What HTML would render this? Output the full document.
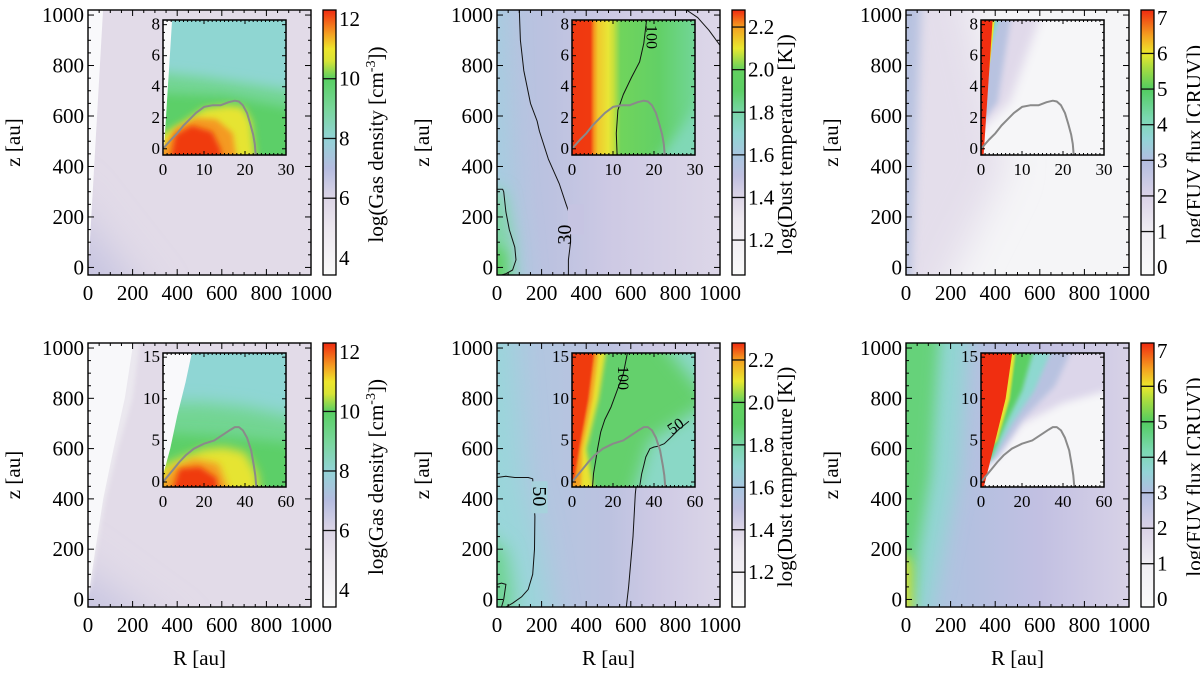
<!DOCTYPE html>
<html><head><meta charset="utf-8">
<style>
html,body{margin:0;padding:0;background:#fff;}
svg{display:block;}
svg text{font-family:"Liberation Serif","Times New Roman","Nimbus Roman","DejaVu Serif",serif !important;}
</style></head>
<body>
<svg id="fig" width="1200" height="676" viewBox="0 0 1200 676" xmlns="http://www.w3.org/2000/svg">
<defs id="defs"></defs>
</svg>
<script>
// ---- data arrays ----
const mainXTicks = [0, 200, 400, 600, 800, 1000];
const mainYTicks = [0, 200, 400, 600, 800, 1000];
const inset1XTicks = [0, 10, 20, 30];
const inset1YTicks = [0, 2, 4, 6, 8];
const inset2XTicks = [0, 20, 40, 60];
const inset2YTicks = [0, 5, 10, 15];
const gasCbTicks = [4, 6, 8, 10, 12];
const gasCbLines = [6, 8, 10];
const dustCbTicks = [1.2, 1.4, 1.6, 1.8, 2.0, 2.2];
const dustCbLabels = ['1.2', '1.4', '1.6', '1.8', '2.0', '2.2'];
const fuvCbTicks = [0, 1, 2, 3, 4, 5, 6, 7];
const fuvCbLines = [1, 2, 3, 4, 5, 6];
// disk surface contour (gray) in insets: R and z values
const curve1R = [0, 1, 2, 3.5, 5, 6.5, 8, 10, 12, 14, 16, 17.5, 18.5, 19.5, 20.5, 21.3, 22, 22.4, 22.6];
const curve1Z = [0, 0.3, 0.6, 1.0, 1.5, 1.9, 2.3, 2.7, 2.8, 2.8, 3.0, 3.1, 3.05, 2.8, 2.3, 1.6, 0.9, 0.3, -0.4];
const curve2R = [0, 2, 5, 8, 11, 15, 20, 25, 30, 33, 35, 37, 39, 41, 43, 44.3, 45, 45.5];
const curve2Z = [0, 0.6, 1.5, 2.4, 3.2, 4.0, 4.6, 5.0, 5.8, 6.3, 6.6, 6.6, 6.2, 5.3, 3.8, 2.0, 0.8, -0.6];
// dust temperature contours (black)
const c30R = [100, 105, 120, 150, 180, 190, 230, 280, 310, 330, 330, 320, 320];
const c30Z = [1020, 900, 780, 650, 580, 540, 430, 330, 250, 200, 100, 30, -30];
const c30bR = [0, 25, 30, 40, 55, 80, 85, 70, 40, 20];
const c30bZ = [310, 310, 300, 220, 150, 80, 30, -10, -25, -30];
const c30cR = [850, 900, 950, 1000];
const c30cZ = [1020, 990, 940, 880];
const t100aR = [11, 10.8, 11.2, 12.5, 14.5, 16.5, 17.5, 18.2];
const t100aZ = [-0.4, 1, 2.5, 3.5, 4.6, 5.6, 6.8, 8.3];
const c50R = [0, 40, 80, 140, 160, 165, 170, 168, 160, 140, 110, 70, 40];
const c50Z = [485, 490, 485, 485, 480, 400, 330, 200, 100, 40, 10, -15, -30];
const c50bR = [580, 590, 600, 610, 615, 620, 630, 640, 650];
const c50bZ = [-30, 50, 150, 250, 330, 420, 500, 600, 700];
const c50cR = [0, 20, 40, 30, 20];
const c50cZ = [60, 65, 60, 0, -30];
const t100bR = [10, 10.5, 11.5, 12.5, 14, 16, 19, 22, 25, 27];
const t100bZ = [-0.6, 1, 2.5, 4, 6, 7.5, 9, 11, 13, 15.5];
const t50bR = [33, 34, 35, 36, 38, 40, 42, 45, 48, 52, 57];
const t50bZ = [-0.6, 1, 2, 3, 4, 4.2, 4.3, 4.6, 5.3, 6.3, 7.3];

// ---- layout ----
const SVGNS = 'http://www.w3.org/2000/svg';
const svg = document.getElementById('fig');
const defs = document.getElementById('defs');
const FONT = '"Liberation Serif", "Times New Roman", "Nimbus Roman", "DejaVu Serif", serif';
const PW = 223;
const colX = [88, 497, 906];
const rows = [[10, 275], [343, 607]];
const insetRows = [[20, 155], [353, 487]];
let uid = 0;
function mk(tag, attrs, parent) {
  const e = document.createElementNS(SVGNS, tag);
  for (const k in attrs) e.setAttribute(k, attrs[k]);
  (parent || svg).appendChild(e);
  return e;
}
const blurCache = {};
function blurId(s) {
  if (!s) return null;
  if (blurCache[s]) return blurCache[s];
  const id = 'bl' + (uid++);
  const f = mk('filter', {id: id, x: '-50%', y: '-50%', width: '200%', height: '200%'}, defs);
  mk('feGaussianBlur', {stdDeviation: s}, f);
  blurCache[s] = id;
  return id;
}
function makeAxes(x0, x1, y0, y1, xd, yd) {
  return {
    x0, x1, y0, y1,
    sx: v => x0 + (v - xd[0]) / (xd[1] - xd[0]) * (x1 - x0),
    sy: v => y1 - (v - yd[0]) / (yd[1] - yd[0]) * (y1 - y0),
    xd, yd
  };
}
function clipGroup(ax, name) {
  const id = 'cp' + (uid++);
  const cp = mk('clipPath', {id: id}, defs);
  mk('rect', {x: ax.x0, y: ax.y0, width: ax.x1 - ax.x0, height: ax.y1 - ax.y0}, cp);
  const g = mk('g', {'clip-path': 'url(#' + id + ')'});
  
  
  return g;
}
function poly(g, ax, pts, fill, blur) {
  const rx = ax.xd[1] - ax.xd[0], ry = ax.yd[1] - ax.yd[0];
  const p = pts.map(q => {
    let x = q[0], y = q[1];
    if (blur) {
      if (x <= ax.xd[0]) x = ax.xd[0] - 0.15 * rx;
      if (x >= ax.xd[1]) x = ax.xd[1] + 0.15 * rx;
      if (y <= ax.yd[0] + 0.02 * ry) y = ax.yd[0] - 0.15 * ry;
      if (y >= ax.yd[1]) y = ax.yd[1] + 0.15 * ry;
    }
    return ax.sx(x).toFixed(1) + ',' + ax.sy(y).toFixed(1);
  }).join(' ');
  const a = {points: p, fill: fill};
  const b = blurId(blur);
  if (b) a.filter = 'url(#' + b + ')';
  return mk('polygon', a, g);
}
function hgrad(stops) {
  const id = 'hg' + (uid++);
  const lg = mk('linearGradient', {id: id, x1: 0, y1: 0, x2: 1, y2: 0}, defs);
  stops.forEach(s => mk('stop', {offset: s[0], 'stop-color': s[1]}, lg));
  return 'url(#' + id + ')';
}
function base(g, ax, fill) {
  mk('rect', {x: ax.x0 - 2, y: ax.y0 - 2, width: ax.x1 - ax.x0 + 4, height: ax.y1 - ax.y0 + 4, fill: fill}, g);
}
function line(g, ax, R, Z, color, w, name) {
  const d = R.map((r, i) => (i ? 'L' : 'M') + ax.sx(r).toFixed(1) + ' ' + ax.sy(Z[i]).toFixed(1)).join(' ');
  const e = mk('path', {d: d, fill: 'none', stroke: color, 'stroke-width': w, 'stroke-linejoin': 'round'}, g);
  
  
  return e;
}
function frameTicks(ax, xMaj, xMinStep, yMinStep, tl, tlm, name) {
  const g = mk('g', {stroke: '#000', 'stroke-width': 1, fill: 'none'});
  
  
  for (let v = ax.xd[0]; v <= ax.xd[1] + 1e-9; v += xMinStep) {
    const isMaj = xMaj.some(m => Math.abs(m - v) < 1e-6);
    const L = isMaj ? tl : tlm, x = ax.sx(v);
    mk('line', {x1: x, y1: ax.y1, x2: x, y2: ax.y1 - L}, g);
    mk('line', {x1: x, y1: ax.y0, x2: x, y2: ax.y0 + L}, g);
  }
  return g;
}
function yTicks(g, ax, yMaj, step, tl, tlm) {
  const start = Math.ceil(ax.yd[0] / step) * step;
  for (let v = start; v <= ax.yd[1] + 1e-9; v += step) {
    const isMaj = yMaj.some(m => Math.abs(m - v) < 1e-6);
    const L = isMaj ? tl : tlm, y = ax.sy(v);
    mk('line', {x1: ax.x0, y1: y, x2: ax.x0 + L, y2: y}, g);
    mk('line', {x1: ax.x1, y1: y, x2: ax.x1 - L, y2: y}, g);
  }
}
function text(x, y, s, size, anchor, name, rot) {
  const a = {x: x, y: y, 'font-size': size, 'text-anchor': anchor || 'middle', fill: '#000'};
  if (rot) a.transform = 'rotate(' + rot + ' ' + x + ' ' + y + ')';
  const t = mk('text', a);
  t.style.fontFamily = FONT;
  t.textContent = s;
  
  
  return t;
}

// ---- colorbars ----
const cbConf = {
  gas: {dom: [3.43, 12.3], ticks: gasCbTicks, labels: gasCbTicks.map(String), lines: gasCbLines,
    stops: [[3.43, '#fafafa'], [5, '#ece7ef'], [6, '#dcd5e6'], [7, '#b5bce0'], [8, '#92d3d6'], [9, '#78d69a'], [10, '#58cf62'], [10.6, '#d8e436'], [11, '#eee52c'], [11.5, '#f4a022'], [12.3, '#f02a10']]},
  dust: {dom: [1.036, 2.28], ticks: dustCbTicks, labels: dustCbLabels, lines: dustCbTicks,
    stops: [[1.036, '#fafafa'], [1.3, '#ece8ef'], [1.4, '#dcd5e6'], [1.5, '#c0c0e0'], [1.6, '#a8c6e0'], [1.7, '#90d6d2'], [1.8, '#78d6a8'], [1.9, '#5ccf66'], [2.0, '#62d05e'], [2.1, '#e8e830'], [2.2, '#f4a020'], [2.28, '#f02a10']]},
  fuv: {dom: [-0.22, 7.22], ticks: fuvCbTicks, labels: fuvCbTicks.map(String), lines: fuvCbLines,
    stops: [[-0.22, '#fafafa'], [1, '#f0eef3'], [2, '#dad2e7'], [3, '#b2bde0'], [3.6, '#92d4d6'], [4.2, '#7ad8b0'], [5, '#52cc60'], [5.6, '#a8dc40'], [6, '#ece82c'], [6.5, '#f4a020'], [7.22, '#f02a10']]}
};
function colorbar(cx, y0, y1, kind, name) {
  const c = cbConf[kind];
  const id = 'cb' + (uid++);
  const lg = mk('linearGradient', {id: id, x1: 0, y1: 1, x2: 0, y2: 0}, defs);
  c.stops.forEach(s => mk('stop', {offset: ((s[0] - c.dom[0]) / (c.dom[1] - c.dom[0])).toFixed(4), 'stop-color': s[1]}, lg));
  const g = mk('g', {});
  
  
  const sy = v => y1 - (v - c.dom[0]) / (c.dom[1] - c.dom[0]) * (y1 - y0);
  mk('rect', {x: cx, y: y0, width: 13, height: y1 - y0, fill: 'url(#' + id + ')'}, g);
  c.lines.forEach(v => mk('line', {x1: cx, x2: cx + 13, y1: sy(v), y2: sy(v), stroke: '#111', 'stroke-width': 1.3}, g));
  mk('rect', {x: cx, y: y0, width: 13, height: y1 - y0, fill: 'none', stroke: '#000', 'stroke-width': 1.3}, g);
  c.ticks.forEach((v, i) => text(cx + 16, sy(v) + 7, c.labels[i], 21, 'start', 'colorbar-tick-label'));
  const tx = cx + 60, ty = (y0 + y1) / 2 + 2;
  const t = mk('text', {x: tx, y: ty, 'font-size': 21, 'text-anchor': 'middle', transform: 'rotate(-90 ' + tx + ' ' + ty + ')'});
  t.style.fontFamily = FONT;
  
  
  if (kind === 'gas') {
    t.appendChild(document.createTextNode('log(Gas density [cm'));
    const sp = mk('tspan', {dy: -8, 'font-size': 14}, t); sp.textContent = '-3';
    const sp2 = mk('tspan', {dy: 8}, t); sp2.textContent = '])';
  } else if (kind === 'dust') t.textContent = 'log(Dust temperature [K])';
  else t.textContent = 'log(FUV flux [CRUV])';
}

// ---- field painters ----
const painters = {
  gas1main(g, ax) {
    base(g, ax, '#e2dbe8');
    poly(g, ax, [[0, -30], [0, 320], [300, -30]], '#c4c2e0', 22);
    poly(g, ax, [[0, -30], [0, 30], [40, -30]], '#8fd5cf', 4);
    poly(g, ax, [[0, -30], [0, 1030], [68, 1030]], '#f9f9fb');
  },
  gas1inset(g, ax) {
    base(g, ax, '#8fd6d2');
    poly(g, ax, [[0, -1], [0, 5], [10, 4.6], [20, 4.2], [30, 3.6], [31, -1]], '#72d592', 6);
    poly(g, ax, [[0, -1], [0, 3.6], [15, 3.4], [31, 2.4], [31, -1]], '#5ccf68', 5);
    poly(g, ax, [[0, -1], [0, 0.3], [5, 1.7], [10, 2.6], [16, 2.8], [19.5, 2.7], [21.5, 1.8], [23, -1]], '#e6e432', 4);
    poly(g, ax, [[0, -1], [3, 1.3], [8, 2.0], [13, 1.9], [17, 1.0], [18.5, -1]], '#f49a20', 3);
    poly(g, ax, [[1, -1], [3, 0.9], [7, 1.5], [12, 1.1], [14, 0], [15, -1]], '#f03a10', 3);
    poly(g, ax, [[0, -1], [0, 9], [2.4, 9], [0.2, -0.2]], '#fafafa');
  },
  dust1main(g, ax) {
    base(g, ax, hgrad([[0, '#b2c4df'], [0.25, '#bcc2e0'], [0.5, '#cdc9e4'], [1, '#ddd7e8']]));
    poly(g, ax, [[0, -30], [0, 1030], [25, 1030], [60, 400], [130, -30]], '#a6cde0', 12);
    poly(g, ax, [[0, -30], [0, 320], [30, 300], [70, 100], [85, -30]], '#80d6a6', 8);
    poly(g, ax, [[0, -30], [0, 160], [40, 60], [45, -30]], '#60d068', 6);
    poly(g, ax, [[0, -30], [0, 40], [15, -30]], '#ecc828', 2);
  },
  dust1inset(g, ax) {
    base(g, ax, hgrad([[0, '#f03810'], [0.16, '#f03a10'], [0.19, '#f5961e'], [0.22, '#f0c82c'], [0.3, '#e8e636'], [0.34, '#c8e03c'], [0.4, '#70d45c'], [0.7, '#62d066'], [1, '#72d69a']]));
    poly(g, ax, [[18, -1], [31, -1], [31, 4]], '#80d8b6', 6);
  },
  fuv1main(g, ax) {
    base(g, ax, '#f5f5f7');
    poly(g, ax, [[0, -30], [0, 1030], [250, 1030], [450, 400], [120, -30]], '#e4deeb', 18);
    poly(g, ax, [[0, -30], [0, 1030], [75, 1030], [15, -30]], '#b8c2e0', 5);
    poly(g, ax, [[0, -30], [0, 700], [14, -30]], '#8fd6d0', 3);
    poly(g, ax, [[0, -30], [0, 300], [6, -30]], '#52cc60', 1);
  },
  fuv1inset(g, ax) {
    base(g, ax, '#f6f6f8');
    poly(g, ax, [[0, 0], [0, 9], [16, 9], [7, 3]], '#e0d9ea', 5);
    poly(g, ax, [[0, 0], [0, 9], [8, 9], [4, 3]], '#b8c2e0', 3);
    poly(g, ax, [[0, 0], [0, 9], [5.8, 9]], '#8fd6d0', 1.5);
    poly(g, ax, [[0, 0], [0, 9], [4.6, 9]], '#58cc60', 1);
    poly(g, ax, [[0, 0], [0, 9], [3.6, 9]], '#e8e430');
    poly(g, ax, [[0, -1], [0, 9], [3.0, 9], [0.5, -1]], '#f02e10');
  },
  gas2main(g, ax) {
    base(g, ax, '#e2dbe8');
    poly(g, ax, [[0, -30], [0, 180], [420, -30]], '#c4c2e0', 22);
    poly(g, ax, [[0, -30], [0, 30], [70, -30]], '#8fd5cf', 5);
    poly(g, ax, [[0, -30], [0, 1030], [255, 1030], [200, 800], [135, 600], [80, 400], [40, 200], [12, 50]], '#ebe8ef', 2);
    poly(g, ax, [[0, -30], [0, 1030], [205, 1030], [165, 800], [115, 600], [68, 400], [33, 200], [8, 50]], '#f8f8fa');
  },
  gas2inset(g, ax) {
    base(g, ax, '#8fd6d4');
    poly(g, ax, [[0, -1], [0, 9.5], [20, 9.5], [40, 9], [61, 7.5], [61, -1]], '#72d592', 8);
    poly(g, ax, [[0, -1], [0, 6], [30, 5.5], [61, 4.5], [61, -1]], '#5ccf68', 6);
    poly(g, ax, [[0, -1], [0, 1], [10, 3], [20, 4.0], [30, 4.2], [40, 3.6], [46, 1], [48, -1]], '#e6e432', 5);
    poly(g, ax, [[0, -1], [5, 1.8], [15, 2.8], [27, 2.2], [35, -1]], '#f49a20', 4);
    poly(g, ax, [[2, -1], [8, 1.6], [18, 1.8], [26, 0.5], [28, -1]], '#f03a10', 3);
    poly(g, ax, [[0, 0.8], [0, 16], [14.5, 16], [11, 12], [7, 8], [3.5, 4]], '#f9f9fb');
  },
  dust2main(g, ax) {
    base(g, ax, hgrad([[0, '#a8cce0'], [0.2, '#b2c6e0'], [0.5, '#bcc2e0'], [0.7, '#cdc9e4'], [1, '#dcd6e8']]));
    poly(g, ax, [[0, -30], [0, 1030], [40, 1030], [110, 480], [190, 200], [260, -30]], '#9ad6da', 14);
    poly(g, ax, [[0, -30], [0, 320], [40, 200], [70, 50], [70, -30]], '#6ed492', 9);
    poly(g, ax, [[0, -30], [0, 90], [28, -30]], '#e6d830', 3);
    poly(g, ax, [[0, -30], [0, 25], [10, -30]], '#f07020', 1);
  },
  dust2inset(g, ax) {
    base(g, ax, '#64d06c');
    poly(g, ax, [[28, -1], [38, 5], [61, 10], [61, -1]], '#8ad8c6', 8);
    poly(g, ax, [[40, 16], [61, 16], [61, 9]], '#8ad8c6', 8);
    poly(g, ax, [[0, -1], [0, 16], [18, 16], [13, 10], [7, 4], [12, -1]], '#e8e232', 2);
    poly(g, ax, [[0, -1], [0, 16], [14, 16], [10, 10], [5, 4], [4, -1]], '#f4a020', 1.5);
    poly(g, ax, [[0, 0], [0, 16], [12, 16], [8, 10], [3.5, 4], [1, 0]], '#f03a10', 1);
  },
  fuv2main(g, ax) {
    base(g, ax, hgrad([[0, '#a8c8e0'], [0.3, '#b4c0e0'], [0.6, '#c2c0e2'], [1, '#d8d2e7']]));
    poly(g, ax, [[0, -30], [0, 1030], [290, 1030], [230, 500], [160, 200], [70, -30]], '#90d6d2', 10);
    poly(g, ax, [[0, -30], [0, 1030], [160, 1030], [110, 500], [55, 200], [15, -30]], '#66d27a', 7);
    poly(g, ax, [[0, -30], [0, 260], [18, 150], [22, -30]], '#e6e032', 6);
    poly(g, ax, [[0, -30], [0, 90], [14, -30]], '#f06020', 3);
  },
  fuv2inset(g, ax) {
    base(g, ax, '#f6f6f8');
    poly(g, ax, [[0, 0], [0, 16], [61, 16], [61, 11.5], [40, 9.5], [20, 7], [8, 3]], '#dcd6ea', 4);
    poly(g, ax, [[0, 0], [0, 16], [48, 16], [36, 11.5], [20, 7.5], [8, 3]], '#b8c2e0', 3);
    poly(g, ax, [[0, 0], [0, 16], [38, 16], [26, 11], [15, 7], [6, 3]], '#8ed8d0', 2);
    poly(g, ax, [[0, 0], [0, 16], [28, 16], [20, 11], [12, 7], [5, 3]], '#5ccf64', 2);
    poly(g, ax, [[0, 0], [0, 16], [18, 16], [14, 10], [8, 5]], '#e8e430', 1);
    poly(g, ax, [[0, -1], [0, 16], [15.5, 16], [12, 10], [6, 4], [1, -1]], '#f02e10');
  }
};

const kinds = ['gas', 'dust', 'fuv'];
for (let r = 0; r < 2; r++) {
  for (let c = 0; c < 3; c++) {
    const px = colX[c];
    const [y0, y1] = rows[r];
    const kind = kinds[c];
    const pg = mk('g', {});
    
    
    const ax = makeAxes(px, px + PW, y0, y1, [0, 1000], [-30, 1020]);
    const g = clipGroup(ax, 'heatmap-' + kind);
    painters[kind + (r + 1) + 'main'](g, ax);
    if (kind === 'dust' && r === 0) {
      line(g, ax, c30R, c30Z, '#111', 1, 'contour-30K');
      line(g, ax, c30bR, c30bZ, '#111', 1, 'contour-inner');
      line(g, ax, c30cR, c30cZ, '#111', 1, 'contour-outer');
    }
    if (kind === 'dust' && r === 1) {
      line(g, ax, c50R, c50Z, '#111', 1, 'contour-50K');
      line(g, ax, c50bR, c50bZ, '#111', 1, 'contour-outer');
      line(g, ax, c50cR, c50cZ, '#111', 1, 'contour-inner');
    }
    const fr = frameTicks(ax, mainXTicks, 50, 50, 6, 3, 'main-axes-frame');
    yTicks(fr, ax, mainYTicks, 50, 6, 3);
    mk('rect', {x: ax.x0, y: ax.y0, width: PW, height: y1 - y0, 'stroke-width': 1.4}, fr);
    if (kind === 'dust' && r === 0) {
      mk('rect', {x: ax.sx(318), y: ax.sy(250), width: 16, height: 30, fill: '#c6c4e2'});
      text(ax.sx(333), ax.sy(130), '30', 20, 'middle', 'contour-label', -90);
    }
    if (kind === 'dust' && r === 1) {
      mk('rect', {x: ax.sx(155), y: ax.sy(470), width: 16, height: 32, fill: '#a6d2dc'});
      text(ax.sx(162), ax.sy(410), '50', 20, 'middle', 'contour-label', 90);
    }
    mainXTicks.forEach(v => text(ax.sx(v), y1 + 25, String(v), 21, 'middle', 'x-tick-label'));
    mainYTicks.forEach(v => text(px - 4, ax.sy(v) + 7, String(v), 21, 'end', 'y-tick-label'));
    text(px - 68, (y0 + y1) / 2, 'z [au]', 21, 'middle', 'y-axis-title', -90);
    if (r === 1) text(px + PW / 2, 665, 'R [au]', 21, 'middle', 'x-axis-title');
    const [iy0, iy1] = insetRows[r];
    const ix0 = px + 75, ix1 = px + 198;
    const iax = r === 0 ? makeAxes(ix0, ix1, iy0, iy1, [0, 30], [-0.4, 8.3]) : makeAxes(ix0, ix1, iy0, iy1, [0, 60], [-0.6, 15.5]);
    const ig = clipGroup(iax, 'inset-heatmap-' + kind);
    painters[kind + (r + 1) + 'inset'](ig, iax);
    if (kind === 'dust' && r === 0) line(ig, iax, t100aR, t100aZ, '#111', 1, 'inset-contour-100K');
    if (kind === 'dust' && r === 1) {
      line(ig, iax, t100bR, t100bZ, '#111', 1, 'inset-contour-100K');
      line(ig, iax, t50bR, t50bZ, '#111', 1, 'inset-contour-50K');
    }
    if (r === 0) line(ig, iax, curve1R, curve1Z, '#8a8a8a', 2, 'disk-surface-curve');
    else line(ig, iax, curve2R, curve2Z, '#8a8a8a', 2, 'disk-surface-curve');
    const xT = r === 0 ? inset1XTicks : inset2XTicks;
    const yT = r === 0 ? inset1YTicks : inset2YTicks;
    const ifr = frameTicks(iax, xT, r === 0 ? 1 : 2, 0, 4, 2, 'inset-axes-frame');
    yTicks(ifr, iax, yT, r === 0 ? 0.5 : 1, 4, 2);
    mk('rect', {x: ix0, y: iy0, width: ix1 - ix0, height: iy1 - iy0, 'stroke-width': 1.5}, ifr);
    if (kind === 'dust') {
      const lx = r === 0 ? iax.sx(18.2) : iax.sx(22.5), ly = r === 0 ? iax.sy(7.2) : iax.sy(12.5);
      text(lx, ly, '100', 16, 'middle', 'inset-contour-label', 90);
      if (r === 1) text(iax.sx(52), iax.sy(6.2), '50', 16, 'middle', 'inset-contour-label', -35);
    }
    xT.forEach(v => text(iax.sx(v), iy1 + 20, String(v), 17, 'middle', 'inset-x-tick-label'));
    yT.forEach(v => text(ix0 - 3, iax.sy(v) + 5, String(v), 17, 'end', 'inset-y-tick-label'));
    colorbar(px + 235, y0, y1, kind, 'colorbar-' + kind);
  }
}
</script>
</body></html>
